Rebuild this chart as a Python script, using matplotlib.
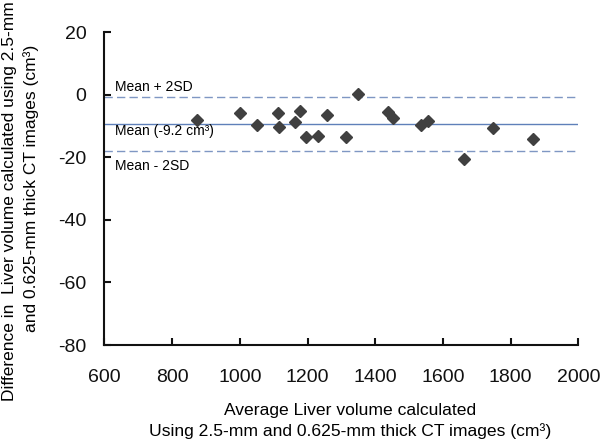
import matplotlib
matplotlib.use("Agg")
import matplotlib.pyplot as plt

plt.rcParams['font.family'] = ['Liberation Sans', 'DejaVu Sans']
plt.rcParams['axes.unicode_minus'] = False

avg_volume = [874, 1001, 1051, 1114, 1117, 1162, 1178, 1196, 1230, 1258,
              1314, 1350, 1438, 1452, 1534, 1557, 1662, 1749, 1867]
difference = [-8.1, -5.7, -9.7, -5.7, -10.3, -8.8, -5.2, -13.6, -13.3, -6.5,
              -13.6, 0.2, -5.5, -7.5, -9.6, -8.4, -20.5, -10.7, -14.1]
mean_diff = -9.2
upper_lim = -0.6
lower_lim = -17.8
x_ticks = [600, 800, 1000, 1200, 1400, 1600, 1800, 2000]
y_ticks = [20, 0, -20, -40, -60, -80]

fig = plt.figure(figsize=(6, 4.43), dpi=100)
ax = fig.add_axes([0.174, 0.2212, 0.790, 0.7059])

ax.axhline(mean_diff, color='#5f80b9', lw=1.0, zorder=1)
ax.axhline(upper_lim, color='#7f97c3', lw=1.0, ls=(0, (6, 3)), zorder=1)
ax.axhline(lower_lim, color='#7f97c3', lw=1.0, ls=(0, (6, 3)), zorder=1)

ax.plot(avg_volume, difference, ls='none', marker='D', ms=6.2,
        color='#404040', zorder=3)

ax.set_xlim(600, 2000)
ax.set_ylim(-80, 20)
ax.set_xticks(x_ticks)
ax.set_yticks(y_ticks)
for s in ['top', 'right']:
    ax.spines[s].set_visible(False)
for s in ['left', 'bottom']:
    ax.spines[s].set_linewidth(1.5)
    ax.spines[s].set_color('#111111')
ax.tick_params(direction='in', length=5, width=1.5, labelsize=14, colors='#111111')
ax.tick_params(axis='x', pad=17)
ax.tick_params(axis='y', pad=13)

ax.text(631, 2.5, 'Mean + 2SD', fontsize=10, va='center', ha='left')
ax.text(631, -11.6, 'Mean (-9.2 cm³)', fontsize=10, va='center', ha='left')
ax.text(631, -22.8, 'Mean - 2SD', fontsize=10, va='center', ha='left')

fig.text(350 / 600, 1 - 411 / 443, 'Average Liver volume calculated',
         ha='center', va='center', fontsize=12.6)
fig.text(350 / 600, 1 - 431 / 443, 'Using 2.5-mm and 0.625-mm thick CT images (cm³)',
         ha='center', va='center', fontsize=12.6)

fig.text(10 / 600, 1 - 201 / 443, 'Difference in  Liver volume calculated using 2.5-mm',
         rotation=90, ha='center', va='center', fontsize=12.5)
fig.text(31 / 600, 1 - 188 / 443, 'and 0.625-mm thick CT images (cm³)',
         rotation=90, ha='center', va='center', fontsize=12.5)

fig.savefig('out.png', dpi=100)
